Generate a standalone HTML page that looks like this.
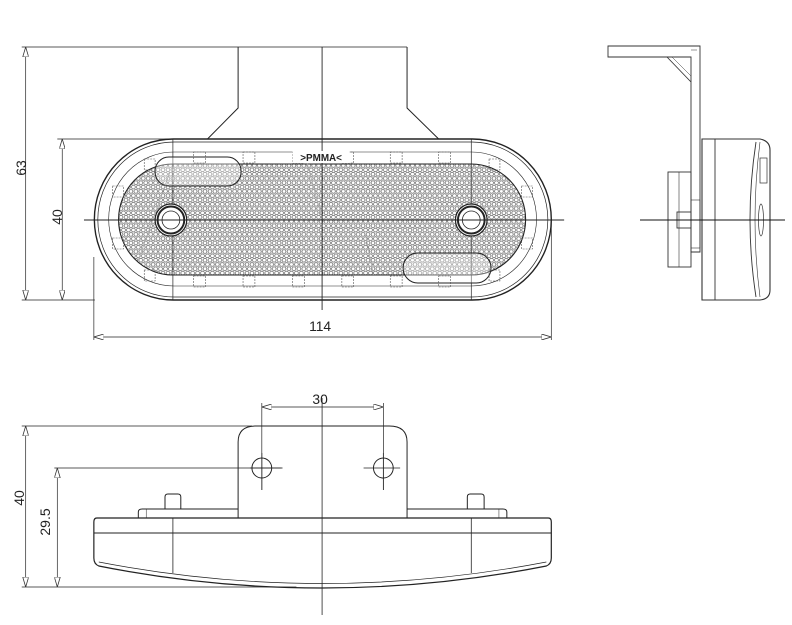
<!DOCTYPE html>
<html><head><meta charset="utf-8"><style>
html,body{margin:0;padding:0;background:#fff}
svg{display:block}
text{font-family:"Liberation Sans",sans-serif;fill:#222}
</style></head><body>
<svg width="792" height="625" viewBox="0 0 792 625" xmlns="http://www.w3.org/2000/svg">
<defs>
<pattern id="hex" width="5" height="8.6" patternUnits="userSpaceOnUse">
<circle cx="2.5" cy="2.15" r="1.9" fill="none" stroke="#555" stroke-width="0.7"/>
<circle cx="0" cy="6.45" r="1.9" fill="none" stroke="#555" stroke-width="0.7"/>
<circle cx="5" cy="6.45" r="1.9" fill="none" stroke="#555" stroke-width="0.7"/>
</pattern>
<marker id="a" viewBox="0 0 10 6" refX="10" refY="3" markerWidth="10" markerHeight="6" orient="auto-start-reverse" markerUnits="userSpaceOnUse">
<path d="M0,0 L10,3 L0,6 Z" fill="#fff" stroke="#333" stroke-width="0.8"/>
</marker>
</defs>
<g transform="scale(0.988,1)">
<g fill="none" stroke="#222" stroke-width="1">
<line x1="22" y1="47" x2="412" y2="47" stroke-width="0.7"/>
<line x1="22" y1="300" x2="96" y2="300" stroke-width="0.7"/>
<line x1="26" y1="47" x2="26" y2="300" stroke-width="0.7" marker-start="url(#a)" marker-end="url(#a)"/>
<line x1="58" y1="139" x2="180" y2="139" stroke-width="0.7"/>
<line x1="63" y1="139" x2="63" y2="300" stroke-width="0.7" marker-start="url(#a)" marker-end="url(#a)"/>
<line x1="95" y1="257" x2="95" y2="340" stroke-width="0.7"/>
<line x1="558" y1="220" x2="558" y2="340" stroke-width="0.7"/>
<line x1="95" y1="337" x2="558" y2="337" stroke-width="0.7" marker-start="url(#a)" marker-end="url(#a)"/>
<path d="M241,47 L241,108 L210,139 M412,47 L412,108 L444,139" stroke-width="1"/>
<rect x="95.5" y="139" width="462.5" height="161" rx="80" ry="80.5" stroke-width="1.4"/>
<rect x="99" y="142" width="455.5" height="155" rx="77" ry="77.5" stroke-width="0.7"/>
<rect x="110" y="152" width="433" height="134" rx="66" ry="67" stroke-width="0.6"/>
<line x1="175" y1="139" x2="175" y2="300" stroke-width="0.7"/>
<line x1="477" y1="139" x2="477" y2="300" stroke-width="0.7"/>
<rect x="120" y="164" width="412" height="111" rx="55" ry="55.5" fill="url(#hex)" stroke-width="1.1"/>
<rect x="157" y="157" width="87" height="29" rx="14" fill="#fff" fill-opacity="0.35" stroke-width="1"/>
<rect x="408" y="253" width="89" height="30" rx="15" fill="#fff" fill-opacity="0.35" stroke-width="1"/>
<line x1="140" y1="260" x2="172" y2="172" stroke="#aaa" stroke-width="0.8"/>
<line x1="310" y1="160" x2="325" y2="215" stroke="#aaa" stroke-width="0.8"/>
<line x1="370" y1="235" x2="378" y2="275" stroke="#aaa" stroke-width="0.8"/>
<g stroke-width="0.6" stroke="#555" stroke-dasharray="2 1">
<rect x="196" y="152" width="12" height="11"/><rect x="246" y="152" width="12" height="11"/><rect x="296" y="152" width="12" height="11"/><rect x="346" y="152" width="12" height="11"/><rect x="395" y="152" width="12" height="11"/><rect x="444" y="152" width="12" height="11"/>
<rect x="196" y="276" width="12" height="11"/><rect x="246" y="276" width="12" height="11"/><rect x="296" y="276" width="12" height="11"/><rect x="346" y="276" width="12" height="11"/><rect x="395" y="276" width="12" height="11"/><rect x="444" y="276" width="12" height="11"/>
<rect x="146" y="159" width="11" height="11"/><rect x="114" y="186" width="11" height="11"/><rect x="114" y="238" width="11" height="11"/><rect x="146" y="270" width="11" height="11"/>
<rect x="495" y="159" width="11" height="11"/><rect x="528" y="186" width="11" height="11"/><rect x="528" y="238" width="11" height="11"/><rect x="495" y="270" width="11" height="11"/>
</g>
<circle cx="173" cy="220" r="16" fill="#fff" stroke-width="1.2"/>
<circle cx="173" cy="220" r="13.5" stroke-width="2"/>
<circle cx="173" cy="220" r="9" stroke-width="0.8"/>
<circle cx="477" cy="220" r="16" fill="#fff" stroke-width="1.2"/>
<circle cx="477" cy="220" r="13.5" stroke-width="2"/>
<circle cx="477" cy="220" r="9" stroke-width="0.8"/>
<line x1="85" y1="220" x2="571" y2="220" stroke-width="0.9"/>
<line x1="326" y1="47" x2="326" y2="310" stroke-width="0.9"/>
</g>
<rect x="296" y="151" width="58" height="12" fill="#fff"/>
<text x="325" y="161" font-size="10" font-weight="bold" text-anchor="middle">&gt;PMMA&lt;</text>
<text x="324" y="331" font-size="14" text-anchor="middle">114</text>

<g fill="none" stroke="#222" stroke-width="1">
<line x1="22" y1="426" x2="255" y2="426" stroke-width="0.7"/>
<line x1="22" y1="587" x2="300" y2="587" stroke-width="0.7"/>
<line x1="26" y1="426" x2="26" y2="587" stroke-width="0.7" marker-start="url(#a)" marker-end="url(#a)"/>
<line x1="55" y1="468" x2="285" y2="468" stroke-width="0.7"/>
<line x1="58" y1="468" x2="58" y2="587" stroke-width="0.7" marker-start="url(#a)" marker-end="url(#a)"/>
<line x1="265" y1="403" x2="265" y2="490" stroke-width="0.7"/>
<line x1="388" y1="403" x2="388" y2="490" stroke-width="0.7"/>
<line x1="265" y1="407" x2="388" y2="407" stroke-width="0.7" marker-start="url(#a)" marker-end="url(#a)"/>
<path d="M241,518 L241,442 Q241,426 259,426 L394,426 Q412,426 412,442 L412,518"/>
<circle cx="265" cy="468" r="10"/>
<circle cx="388" cy="468" r="10"/>
<path d="M241,518 L140,518 L140,512 Q140,509 144,509 L241,509"/>
<path d="M412,518 L513,518 L513,512 Q513,509 509,509 L412,509"/>
<line x1="148" y1="509" x2="148" y2="518" stroke-width="0.5"/>
<line x1="505" y1="509" x2="505" y2="518" stroke-width="0.5"/>
<path d="M167,509 L167,497 Q167,494 170,494 L180,494 Q183,494 183,497 L183,509"/>
<path d="M473,509 L473,497 Q473,494 476,494 L487,494 Q490,494 490,497 L490,509"/>
<path d="M98,518 L555,518 Q558,518 558,522 L558,558 Q558,564 553,566 Q440,588 326,588 Q212,588 100,566 Q95,564 95,558 L95,522 Q95,518 98,518 Z" stroke-width="1.2"/>
<line x1="95" y1="533" x2="558" y2="533"/>
<path d="M100,562 Q326,605 553,562" stroke-width="0.7"/>
<line x1="175" y1="518" x2="175" y2="573" stroke-width="0.8"/>
<line x1="477" y1="518" x2="477" y2="573" stroke-width="0.8"/>
<line x1="326" y1="398" x2="326" y2="615" stroke-width="0.8"/>
<line x1="253" y1="468" x2="286" y2="468" stroke-width="0.8"/>
<line x1="265" y1="453" x2="265" y2="490" stroke-width="0.8"/>
<line x1="368" y1="468" x2="405" y2="468" stroke-width="0.8"/>
<line x1="388" y1="453" x2="388" y2="490" stroke-width="0.8"/>
</g>
<text x="324" y="404" font-size="14" text-anchor="middle">30</text>
</g>
<text transform="translate(26,168) rotate(-90)" font-size="14" text-anchor="middle">63</text>
<text transform="translate(62,217) rotate(-90)" font-size="14" text-anchor="middle">40</text>
<text transform="translate(24,498) rotate(-90)" font-size="14" text-anchor="middle">40</text>
<text transform="translate(50,522) rotate(-90)" font-size="14" text-anchor="middle">29.5</text>

<g fill="none" stroke="#333" stroke-width="0.9">
<path d="M608,46 L700,46 L700,252 L691,252 L691,57 L608,57 Z"/>
<line x1="691" y1="50" x2="697" y2="50" stroke-width="0.5"/>
<line x1="667" y1="57" x2="691" y2="82"/>
<line x1="672" y1="57" x2="691" y2="76" stroke-width="0.5"/>
<path d="M702,139 L760,139 Q770,141 770,150 L770,290 Q770,299 760,300 L702,300 Z" stroke-width="1.1"/>
<line x1="715" y1="139" x2="715" y2="300"/>
<path d="M756,142 Q744,220 756,297"/>
<path d="M760,142 Q750,220 760,297" stroke-width="0.6"/>
<rect x="760" y="158" width="7" height="25" stroke-width="0.7"/>
<ellipse cx="761" cy="220" rx="2.5" ry="16" stroke-width="0.7"/>
<rect x="668" y="172" width="23" height="95"/>
<line x1="679" y1="172" x2="679" y2="267" stroke-width="0.6"/>
<rect x="677" y="212" width="14" height="16"/>
<rect x="691" y="200" width="9" height="48" stroke-width="0.6"/>
<line x1="640" y1="220" x2="785" y2="220" stroke="#111" stroke-width="0.9"/>
</g>
</svg>
</body></html>
